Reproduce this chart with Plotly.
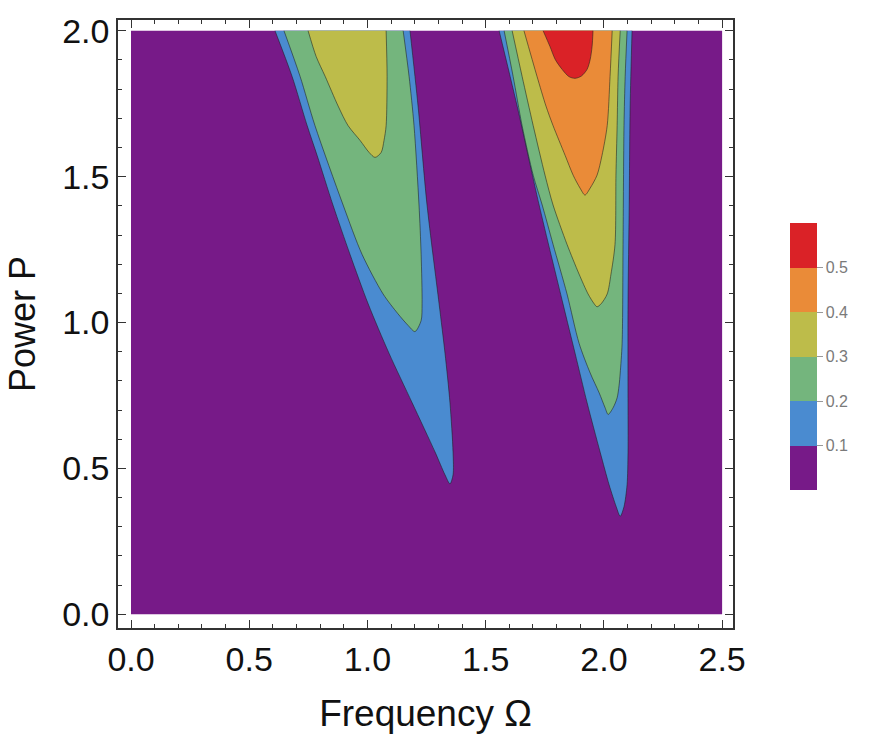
import plotly.graph_objects as go

# ---------------- data (Omega, P) ----------------
omega_range = [0.0, 2.5]
power_range = [0.0, 2.0]

levels = [0.1, 0.2, 0.3, 0.4, 0.5]
level_colors = ["#771a88", "#4a8bd0", "#74b57d", "#bdbc4a", "#ea8b38", "#da2227"]

# left tongue, region >= 0.1
t1_l1_x = [0.609, 0.681, 0.745, 0.787, 0.854, 0.926, 1.003, 1.091, 1.189, 1.286, 1.328, 1.349,
           1.362, 1.362, 1.349, 1.328, 1.303, 1.252, 1.214, 1.180]
t1_l1_p = [2.000, 1.844, 1.675, 1.573, 1.403, 1.234, 1.064, 0.895, 0.725, 0.556, 0.478, 0.447,
           0.478, 0.556, 0.725, 0.895, 1.064, 1.403, 1.742, 2.000]
# left tongue, region >= 0.2
t1_l2_x = [0.647, 0.715, 0.778, 0.897, 0.977, 1.066, 1.129, 1.172, 1.201,
           1.227, 1.231, 1.227, 1.218, 1.197, 1.176, 1.151]
t1_l2_p = [2.000, 1.844, 1.675, 1.403, 1.234, 1.098, 1.030, 0.990, 0.969,
           1.007, 1.064, 1.234, 1.403, 1.675, 1.844, 2.000]
# left tongue, region >= 0.3
t1_l3_x = [0.749, 0.783, 0.821, 0.876, 0.918, 0.969, 1.007, 1.032, 1.058, 1.070, 1.079, 1.083, 1.079]
t1_l3_p = [2.000, 1.912, 1.844, 1.742, 1.675, 1.624, 1.583, 1.566, 1.583, 1.624, 1.675, 1.844, 2.000]

# right tongue, region >= 0.1
t2_l1_x = [1.557, 1.633, 1.726, 1.827, 1.878, 1.929, 1.984, 2.022, 2.052, 2.069,
           2.085, 2.098, 2.102, 2.102, 2.102, 2.107, 2.111, 2.119]
t2_l1_p = [2.000, 1.742, 1.403, 1.064, 0.895, 0.725, 0.556, 0.444, 0.369, 0.336,
           0.369, 0.444, 0.556, 0.725, 1.064, 1.403, 1.742, 2.000]
# right tongue, region >= 0.2
t2_l2_x = [1.578, 1.616, 1.654, 1.701, 1.739, 1.785, 1.844, 1.895, 1.942, 1.980, 2.005, 2.018,
           2.039, 2.056, 2.064, 2.069, 2.077, 2.081, 2.085, 2.090, 2.098]
t2_l2_p = [2.000, 1.844, 1.675, 1.505, 1.403, 1.268, 1.098, 0.929, 0.827, 0.759, 0.708, 0.685,
           0.708, 0.742, 0.783, 0.827, 0.929, 1.268, 1.675, 1.844, 2.000]
# right tongue, region >= 0.3
t2_l3_x = [1.612, 1.654, 1.701, 1.751, 1.785, 1.844, 1.895, 1.933, 1.959, 1.971,
           1.988, 2.014, 2.030, 2.047, 2.051, 2.056, 2.060, 2.069]
t2_l3_p = [2.000, 1.844, 1.675, 1.505, 1.403, 1.268, 1.166, 1.098, 1.064, 1.054,
           1.064, 1.098, 1.166, 1.268, 1.505, 1.675, 1.844, 2.000]
# right tongue, region >= 0.4
t2_l4_x = [1.662, 1.717, 1.755, 1.785, 1.836, 1.870, 1.899, 1.920, 1.942, 1.971, 1.992, 2.014, 2.026, 2.035]
t2_l4_p = [2.000, 1.844, 1.742, 1.675, 1.573, 1.505, 1.461, 1.437, 1.461, 1.505, 1.573, 1.675, 1.844, 2.000]
# right tongue, region >= 0.5
t2_l5_x = [1.743, 1.772, 1.794, 1.823, 1.852, 1.878, 1.905, 1.929, 1.942, 1.950, 1.954]
t2_l5_p = [2.000, 1.946, 1.902, 1.868, 1.843, 1.837, 1.845, 1.868, 1.902, 1.946, 2.000]

regions = [
    (t1_l1_x, t1_l1_p, 1), (t1_l2_x, t1_l2_p, 2), (t1_l3_x, t1_l3_p, 3),
    (t2_l1_x, t2_l1_p, 1), (t2_l2_x, t2_l2_p, 2), (t2_l3_x, t2_l3_p, 3),
    (t2_l4_x, t2_l4_p, 4), (t2_l5_x, t2_l5_p, 5),
]

FONT = "Liberation Sans, Arial, Helvetica, sans-serif"

fig = go.Figure()

# background (lowest level) over the whole data domain
fig.add_trace(go.Scatter(
    x=[omega_range[0], omega_range[1], omega_range[1], omega_range[0]],
    y=[power_range[0], power_range[0], power_range[1], power_range[1]],
    fill="toself", fillcolor=level_colors[0], mode="lines",
    line=dict(width=0, color=level_colors[0]), hoverinfo="skip", showlegend=False))

for xs, ps, k in regions:
    fig.add_trace(go.Scatter(
        x=xs, y=ps, fill="toself", fillcolor=level_colors[k], mode="lines",
        line=dict(width=1, color="rgba(30,30,30,0.55)", shape="spline", smoothing=0.8),
        hoverinfo="skip", showlegend=False))

# colour bar (discrete bands)
n = len(level_colors)
cscale = []
for i, c in enumerate(level_colors):
    cscale.append([i / n, c])
    cscale.append([(i + 1) / n, c])

fig.add_trace(go.Scatter(
    x=[None], y=[None], mode="markers", showlegend=False, hoverinfo="skip",
    marker=dict(color=[0], cmin=0, cmax=0.1 * n, colorscale=cscale, showscale=True,
                colorbar=dict(
                    x=(790 - 118) / 615, xanchor="left", xpad=0,
                    y=(628 - 353.5) / 615, yanchor="middle", ypad=0,
                    len=267, lenmode="pixels", thickness=27, thicknessmode="pixels",
                    outlinewidth=0, tickvals=levels, ticktext=[f"{v:.1f}" for v in levels],
                    ticks="outside", ticklen=6, tickcolor="#999", tickwidth=1,
                    tickfont=dict(family=FONT, size=16, color="#7a7a7a")))))

axis_common = dict(
    showline=True, linecolor="#333", linewidth=1.5, mirror="allticks",
    ticks="inside", ticklen=8, tickwidth=1, tickcolor="#333",
    showgrid=False, zeroline=False,
    tickfont=dict(family=FONT, size=34, color="#111"),
    minor=dict(dtick=0.1, ticks="inside", ticklen=4, tickwidth=1, tickcolor="#333", showgrid=False),
    tickformat=".1f", dtick=0.5, tick0=0,
)

fig.update_layout(
    width=871, height=742,
    margin=dict(l=118, r=138, t=13, b=114),
    paper_bgcolor="white", plot_bgcolor="white",
    xaxis=dict(range=[-0.055, 2.546],
               title=dict(text="Frequency Ω", font=dict(family=FONT, size=37, color="#111"), standoff=24),
               **axis_common),
    yaxis=dict(range=[-0.047, 2.037],
               title=dict(text="Power P", font=dict(family=FONT, size=36, color="#111"), standoff=16),
               **axis_common),
)

fig.write_html("out.html")
